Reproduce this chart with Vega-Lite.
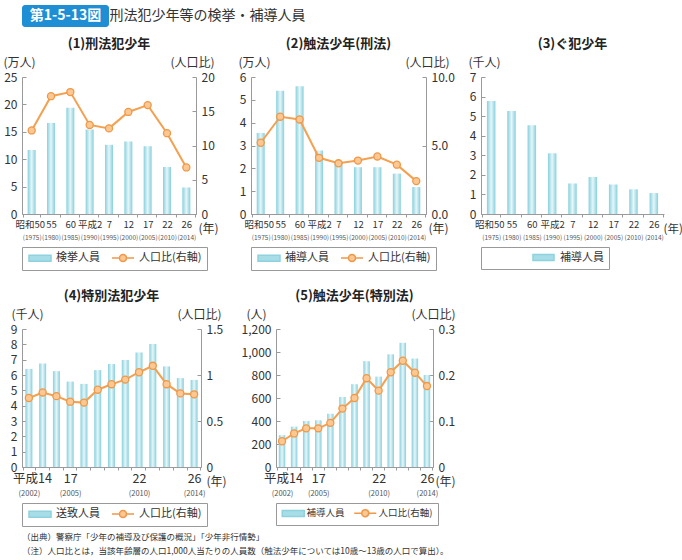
{
  "$schema": "https://vega.github.io/schema/vega-lite/v6.json",
  "padding": {"left": 3, "top": 5, "right": 0, "bottom": 2},
  "background": "white",
  "datasets": {
    "p1": [
      {"year": 1975, "n": 11.68, "r": 12.2}, {"year": 1980, "n": 16.61, "r": 17.2}, {"year": 1985, "n": 19.41, "r": 17.8},
      {"year": 1990, "n": 15.42, "r": 13.0}, {"year": 1995, "n": 12.62, "r": 12.5}, {"year": 2000, "n": 13.23, "r": 14.9},
      {"year": 2005, "n": 12.37, "r": 15.9}, {"year": 2010, "n": 8.58, "r": 11.8}, {"year": 2014, "n": 4.84, "r": 6.8}
    ],
    "p2": [
      {"year": 1975, "n": 3.55, "r": 5.2}, {"year": 1980, "n": 5.40, "r": 7.1}, {"year": 1985, "n": 5.60, "r": 6.9},
      {"year": 1990, "n": 2.78, "r": 4.1}, {"year": 1995, "n": 2.29, "r": 3.7}, {"year": 2000, "n": 2.05, "r": 3.9},
      {"year": 2005, "n": 2.05, "r": 4.2}, {"year": 2010, "n": 1.77, "r": 3.6}, {"year": 2014, "n": 1.18, "r": 2.4}
    ],
    "p3": [
      {"year": 1975, "n": 5.77}, {"year": 1980, "n": 5.26}, {"year": 1985, "n": 4.53},
      {"year": 1990, "n": 3.10}, {"year": 1995, "n": 1.56}, {"year": 2000, "n": 1.89},
      {"year": 2005, "n": 1.51}, {"year": 2010, "n": 1.26}, {"year": 2014, "n": 1.07}
    ],
    "p4": [
      {"year": 2002, "n": 6.40, "r": 0.75}, {"year": 2003, "n": 6.75, "r": 0.81}, {"year": 2004, "n": 6.25, "r": 0.77},
      {"year": 2005, "n": 5.57, "r": 0.71}, {"year": 2006, "n": 5.42, "r": 0.70}, {"year": 2007, "n": 6.32, "r": 0.84},
      {"year": 2008, "n": 6.72, "r": 0.90}, {"year": 2009, "n": 6.98, "r": 0.95}, {"year": 2010, "n": 7.47, "r": 1.03},
      {"year": 2011, "n": 8.02, "r": 1.10}, {"year": 2012, "n": 6.56, "r": 0.90}, {"year": 2013, "n": 5.80, "r": 0.80},
      {"year": 2014, "n": 5.68, "r": 0.79}
    ],
    "p5": [
      {"year": 2002, "n": 277, "r": 0.056}, {"year": 2003, "n": 351, "r": 0.073}, {"year": 2004, "n": 400, "r": 0.084},
      {"year": 2005, "n": 406, "r": 0.084}, {"year": 2006, "n": 463, "r": 0.096}, {"year": 2007, "n": 609, "r": 0.127},
      {"year": 2008, "n": 720, "r": 0.150}, {"year": 2009, "n": 920, "r": 0.193}, {"year": 2010, "n": 786, "r": 0.166},
      {"year": 2011, "n": 980, "r": 0.206}, {"year": 2012, "n": 1080, "r": 0.231}, {"year": 2013, "n": 943, "r": 0.205},
      {"year": 2014, "n": 800, "r": 0.176}
    ],
    "none": [],
    "hdr": [{"t": "第1-5-13図"}],
    "hdr2": [{"t": "刑法犯少年等の検挙・補導人員"}]
  },
  "title": {
    "text": ["（出典）警察庁「少年の補導及び保護の概況」「少年非行情勢」", "（注）人口比とは，当該年齢層の人口1,000人当たりの人員数（触法少年については10歳～13歳の人口で算出）。"],
    "orient": "bottom", "anchor": "start", "frame": "group", "fontSize": 8.5, "fontWeight": "normal", "color": "#333", "lineHeight": 14, "offset": 6
  },
  "concat": [
    {
      "hconcat": [
        {
          "width": 87, "height": 22,
          "data": {"name": "hdr"},
          "layer": [
            {"mark": {"type": "rect", "color": "#1e8fd5", "cornerRadius": 3}, "encoding": {}},
            {"mark": {"type": "text", "color": "white", "fontSize": 14, "fontWeight": "bold"}, "encoding": {"text": {"field": "t"}}}
          ]
        },
        {
          "width": 1, "height": 22,
          "data": {"name": "hdr2"},
          "mark": {"type": "text", "align": "left", "baseline": "middle", "fontSize": 14, "color": "#333"},
          "encoding": {"text": {"field": "t"}}
        }
      ],
      "spacing": 0,
      "bounds": "flush"
    },
    {
      "concat": [
        {
          "hconcat": [
            {
              "width": 174, "height": 137,
              "title": {"text": "(1)刑法犯少年"},
              "data": {"name": "p1"},
              "layer": [
                {
                  "mark": {"type": "bar", "size": 8, "fill": {"gradient": "linear", "x1": 0, "y1": 0, "x2": 1, "y2": 0, "stops": [{"offset": 0, "color": "#86d0dd"}, {"offset": 0.5, "color": "#e6f6f9"}, {"offset": 1, "color": "#86d0dd"}]}},
                  "encoding": {
                    "x": {"field": "year", "type": "ordinal", "title": "(年)", "axis": {"labelExpr": "isValid(datum.value) ? ['昭和50','55','60','平成2','7','12','17','22','26'][indexof([1975,1980,1985,1990,1995,2000,2005,2010,2014], datum.value)] : ''", "labelOffset": {"condition": {"test": "datum.value == 1975", "value": -2}, "value": 0}, "titleX": 176, "titleY": 18}},
                    "y": {"field": "n", "type": "quantitative", "scale": {"domain": [0, 25]}, "title": "(万人)", "axis": {"values": [0, 5, 10, 15, 20, 25], "titleX": -19}}
                  }
                },
                {
                  "encoding": {
                    "x": {"field": "year", "type": "ordinal", "axis": {"orient": "bottom", "ticks": false, "domain": false, "labelPadding": 20, "labelFontSize": 6.5, "labelColor": "#555", "title": null, "labelExpr": "isValid(datum.value) ? '(' + datum.value + ')' : ''"}},
                    "y": {"field": "r", "type": "quantitative", "scale": {"domain": [0, 20]}, "title": "(人口比)", "axis": {"orient": "right", "values": [0, 5, 10, 15, 20], "titleX": 18}}
                  },
                  "layer": [
                    {"mark": {"type": "line", "color": "#f4a04f", "strokeWidth": 2}},
                    {"mark": {"type": "point", "filled": true, "fill": "#fbc792", "stroke": "#ef9848", "strokeWidth": 1.3, "size": 50, "opacity": 1}}
                  ]
                },
                {
                  "data": {"name": "none"},
                  "mark": {"type": "point", "filled": true, "opacity": 1, "strokeWidth": 1.5},
                  "encoding": {
                    "fill": {"datum": "人口比(右軸)", "scale": {"domain": ["検挙人員", "人口比(右軸)"], "range": ["#a6dde7", "#fbc792"]}, "legend": {"title": null}},
                    "stroke": {"datum": "人口比(右軸)", "scale": {"domain": ["検挙人員", "人口比(右軸)"], "range": ["#8ed2de", "#ef9848"]}, "legend": {"title": null}},
                    "shape": {"datum": "人口比(右軸)", "scale": {"domain": ["検挙人員", "人口比(右軸)"], "range": ["M-1,-0.857H5.286V0.857H-1Z", "M-1,0H1.143M3.143,0H5.286M1.143,0A1,1 0 1,1 3.143,0A1,1 0 1,1 1.143,0Z"]}, "legend": {"title": null}}
                  }
                }
              ],
              "resolve": {"scale": {"y": "independent"}, "axis": {"x": "independent"}}
            },
            {
              "width": 175, "height": 137,
              "title": {"text": "(2)触法少年(刑法)"},
              "data": {"name": "p2"},
              "layer": [
                {
                  "mark": {"type": "bar", "size": 8, "fill": {"gradient": "linear", "x1": 0, "y1": 0, "x2": 1, "y2": 0, "stops": [{"offset": 0, "color": "#86d0dd"}, {"offset": 0.5, "color": "#e6f6f9"}, {"offset": 1, "color": "#86d0dd"}]}},
                  "encoding": {
                    "x": {"field": "year", "type": "ordinal", "title": "(年)", "axis": {"labelExpr": "isValid(datum.value) ? ['昭和50','55','60','平成2','7','12','17','22','26'][indexof([1975,1980,1985,1990,1995,2000,2005,2010,2014], datum.value)] : ''", "labelOffset": {"condition": {"test": "datum.value == 1975", "value": -2}, "value": 0}, "titleX": 177, "titleY": 18}},
                    "y": {"field": "n", "type": "quantitative", "scale": {"domain": [0, 6]}, "title": "(万人)", "axis": {"values": [0, 1, 2, 3, 4, 5, 6], "titleX": -13}}
                  }
                },
                {
                  "encoding": {
                    "x": {"field": "year", "type": "ordinal", "axis": {"orient": "bottom", "ticks": false, "domain": false, "labelPadding": 20, "labelFontSize": 6.5, "labelColor": "#555", "title": null, "labelExpr": "isValid(datum.value) ? '(' + datum.value + ')' : ''"}},
                    "y": {"field": "r", "type": "quantitative", "scale": {"domain": [0, 10]}, "title": "(人口比)", "axis": {"orient": "right", "values": [0, 5, 10], "format": ".1f", "titleX": 23}}
                  },
                  "layer": [
                    {"mark": {"type": "line", "color": "#f4a04f", "strokeWidth": 2}},
                    {"mark": {"type": "point", "filled": true, "fill": "#fbc792", "stroke": "#ef9848", "strokeWidth": 1.3, "size": 50, "opacity": 1}}
                  ]
                },
                {
                  "data": {"name": "none"},
                  "mark": {"type": "point", "filled": true, "opacity": 1, "strokeWidth": 1.5},
                  "encoding": {
                    "fill": {"datum": "人口比(右軸)", "scale": {"domain": ["補導人員", "人口比(右軸)"], "range": ["#a6dde7", "#fbc792"]}, "legend": {"title": null}},
                    "stroke": {"datum": "人口比(右軸)", "scale": {"domain": ["補導人員", "人口比(右軸)"], "range": ["#8ed2de", "#ef9848"]}, "legend": {"title": null}},
                    "shape": {"datum": "人口比(右軸)", "scale": {"domain": ["補導人員", "人口比(右軸)"], "range": ["M-1,-0.857H5.286V0.857H-1Z", "M-1,0H1.143M3.143,0H5.286M1.143,0A1,1 0 1,1 3.143,0A1,1 0 1,1 1.143,0Z"]}, "legend": {"title": null}}
                  }
                }
              ],
              "resolve": {"scale": {"y": "independent"}, "axis": {"x": "independent"}}
            },
            {
              "width": 183, "height": 137,
              "title": {"text": "(3)ぐ犯少年"},
              "data": {"name": "p3"},
              "layer": [
                {
                  "mark": {"type": "bar", "size": 8.5, "fill": {"gradient": "linear", "x1": 0, "y1": 0, "x2": 1, "y2": 0, "stops": [{"offset": 0, "color": "#86d0dd"}, {"offset": 0.5, "color": "#e6f6f9"}, {"offset": 1, "color": "#86d0dd"}]}},
                  "encoding": {
                    "x": {"field": "year", "type": "ordinal", "title": "(年)", "axis": {"labelExpr": "isValid(datum.value) ? ['昭和50','55','60','平成2','7','12','17','22','26'][indexof([1975,1980,1985,1990,1995,2000,2005,2010,2014], datum.value)] : ''", "labelOffset": {"condition": {"test": "datum.value == 1975", "value": -2}, "value": 0}, "titleX": 182, "titleY": 18, "titleFontSize": 11.5}},
                    "y": {"field": "n", "type": "quantitative", "scale": {"domain": [0, 7]}, "title": "(千人)", "axis": {"values": [0, 1, 2, 3, 4, 5, 6, 7], "titleX": -13}}
                  }
                },
                {
                  "data": {"name": "none"},
                  "mark": {"type": "point", "filled": true, "opacity": 1, "strokeWidth": 1.5},
                  "encoding": {
                    "x": {"field": "year", "type": "ordinal", "axis": {"orient": "bottom", "ticks": false, "domain": false, "labelPadding": 20, "labelFontSize": 6.5, "labelColor": "#555", "title": null, "labelExpr": "isValid(datum.value) ? '(' + datum.value + ')' : ''"}},
                    "fill": {"datum": "補導人員", "scale": {"domain": ["補導人員"], "range": ["#a6dde7"]}, "legend": {"title": null, "labelOffset": 63, "labelExpr": "datum.label + '\u3000\u3000\u3000\u3000\u3000'"}},
                    "stroke": {"datum": "補導人員", "scale": {"domain": ["補導人員"], "range": ["#8ed2de"]}, "legend": {"title": null, "labelOffset": 63, "labelExpr": "datum.label + '\u3000\u3000\u3000\u3000\u3000'"}},
                    "shape": {"datum": "補導人員", "scale": {"domain": ["補導人員"], "range": ["M-1,0L-1,0M11.86,-0.857H17.86V0.857H11.86Z"]}, "legend": {"title": null, "labelOffset": 63, "labelExpr": "datum.label + '\u3000\u3000\u3000\u3000\u3000'"}}
                  }
                }
              ],
              "resolve": {"axis": {"x": "independent"}}
            }
          ],
          "spacing": 55,
          "bounds": "flush",
          "resolve": {"scale": {"fill": "independent", "stroke": "independent", "shape": "independent"}}
        },
        {
          "hconcat": [
            {
              "width": 179, "height": 138,
              "title": {"text": "(4)特別法犯少年"},
              "data": {"name": "p4"},
              "layer": [
                {
                  "mark": {"type": "bar", "size": 7, "fill": {"gradient": "linear", "x1": 0, "y1": 0, "x2": 1, "y2": 0, "stops": [{"offset": 0, "color": "#86d0dd"}, {"offset": 0.5, "color": "#e6f6f9"}, {"offset": 1, "color": "#86d0dd"}]}},
                  "encoding": {
                    "x": {"field": "year", "type": "ordinal", "title": "(年)", "axis": {"labelFont": "Noto Sans CJK JP", "labelFontSize": 12.5, "labelExpr": "datum.value == 2002 ? '平成14' : datum.value == 2005 ? '17' : datum.value == 2010 ? '22' : datum.value == 2014 ? '26' : ''", "labelOffset": {"condition": {"test": "datum.value == 2002", "value": 3}, "value": 0}, "titleX": 184, "titleY": 18}},
                    "y": {"field": "n", "type": "quantitative", "scale": {"domain": [0, 9]}, "title": "(千人)", "axis": {"values": [0, 1, 2, 3, 4, 5, 6, 7, 8, 9], "titleX": -11}}
                  }
                },
                {
                  "encoding": {
                    "x": {"field": "year", "type": "ordinal", "axis": {"orient": "bottom", "ticks": false, "domain": false, "labelPadding": 22, "labelFontSize": 7.5, "labelColor": "#555", "title": null, "labelExpr": "indexof([2002,2005,2010,2014], datum.value) >= 0 ? '(' + datum.value + ')' : ''"}},
                    "y": {"field": "r", "type": "quantitative", "scale": {"domain": [0, 1.5]}, "title": "(人口比)", "axis": {"orient": "right", "values": [0, 0.5, 1, 1.5], "format": "~g", "titleX": 20}}
                  },
                  "layer": [
                    {"mark": {"type": "line", "color": "#f4a04f", "strokeWidth": 2}},
                    {"mark": {"type": "point", "filled": true, "fill": "#fbc792", "stroke": "#ef9848", "strokeWidth": 1.3, "size": 50, "opacity": 1}}
                  ]
                },
                {
                  "data": {"name": "none"},
                  "mark": {"type": "point", "filled": true, "opacity": 1, "strokeWidth": 1.5},
                  "encoding": {
                    "fill": {"datum": "人口比(右軸)", "scale": {"domain": ["送致人員", "人口比(右軸)"], "range": ["#a6dde7", "#fbc792"]}, "legend": {"title": null}},
                    "stroke": {"datum": "人口比(右軸)", "scale": {"domain": ["送致人員", "人口比(右軸)"], "range": ["#8ed2de", "#ef9848"]}, "legend": {"title": null}},
                    "shape": {"datum": "人口比(右軸)", "scale": {"domain": ["送致人員", "人口比(右軸)"], "range": ["M-1,-0.857H5.286V0.857H-1Z", "M-1,0H1.143M3.143,0H5.286M1.143,0A1,1 0 1,1 3.143,0A1,1 0 1,1 1.143,0Z"]}, "legend": {"title": null}}
                  }
                }
              ],
              "resolve": {"scale": {"y": "independent"}, "axis": {"x": "independent"}}
            },
            {
              "width": 157, "height": 138,
              "title": {"text": "(5)触法少年(特別法)"},
              "data": {"name": "p5"},
              "layer": [
                {
                  "mark": {"type": "bar", "size": 6.5, "fill": {"gradient": "linear", "x1": 0, "y1": 0, "x2": 1, "y2": 0, "stops": [{"offset": 0, "color": "#86d0dd"}, {"offset": 0.5, "color": "#e6f6f9"}, {"offset": 1, "color": "#86d0dd"}]}},
                  "encoding": {
                    "x": {"field": "year", "type": "ordinal", "title": "(年)", "axis": {"labelFont": "Noto Sans CJK JP", "labelFontSize": 12.5, "labelExpr": "datum.value == 2002 ? '平成14' : datum.value == 2005 ? '17' : datum.value == 2010 ? '22' : datum.value == 2014 ? '26' : ''", "labelOffset": {"condition": {"test": "datum.value == 2002", "value": 1}, "value": 0}, "titleX": 159, "titleY": 18}},
                    "y": {"field": "n", "type": "quantitative", "scale": {"domain": [0, 1200]}, "title": "(人)", "axis": {"values": [0, 200, 400, 600, 800, 1000, 1200], "format": ",.0f", "titleX": -30}}
                  }
                },
                {
                  "encoding": {
                    "x": {"field": "year", "type": "ordinal", "axis": {"orient": "bottom", "ticks": false, "domain": false, "labelPadding": 22, "labelFontSize": 7.5, "labelColor": "#555", "title": null, "labelExpr": "indexof([2002,2005,2010,2014], datum.value) >= 0 ? '(' + datum.value + ')' : ''"}},
                    "y": {"field": "r", "type": "quantitative", "scale": {"domain": [0, 0.3]}, "title": "(人口比)", "axis": {"orient": "right", "values": [0, 0.1, 0.2, 0.3], "format": "~g", "titleX": 22}}
                  },
                  "layer": [
                    {"mark": {"type": "line", "color": "#f4a04f", "strokeWidth": 2}},
                    {"mark": {"type": "point", "filled": true, "fill": "#fbc792", "stroke": "#ef9848", "strokeWidth": 1.3, "size": 50, "opacity": 1}}
                  ]
                },
                {
                  "data": {"name": "none"},
                  "mark": {"type": "point", "filled": true, "opacity": 1, "strokeWidth": 1.5},
                  "encoding": {
                    "fill": {"datum": "人口比(右軸)", "scale": {"domain": ["補導人員", "人口比(右軸)"], "range": ["#a6dde7", "#fbc792"]}, "legend": {"title": null, "labelFontSize": 9.5, "columnPadding": 6, "labelOffset": 16}},
                    "stroke": {"datum": "人口比(右軸)", "scale": {"domain": ["補導人員", "人口比(右軸)"], "range": ["#8ed2de", "#ef9848"]}, "legend": {"title": null, "labelFontSize": 9.5, "columnPadding": 6, "labelOffset": 16}},
                    "shape": {"datum": "人口比(右軸)", "scale": {"domain": ["補導人員", "人口比(右軸)"], "range": ["M-1,-0.857H5.286V0.857H-1Z", "M-1,0H1.143M3.143,0H5.286M1.143,0A1,1 0 1,1 3.143,0A1,1 0 1,1 1.143,0Z"]}, "legend": {"title": null, "labelFontSize": 9.5, "columnPadding": 6, "labelOffset": 16}}
                  }
                }
              ],
              "resolve": {"scale": {"y": "independent"}, "axis": {"x": "independent"}}
            }
          ],
          "spacing": 75,
          "bounds": "flush",
          "resolve": {"scale": {"fill": "independent", "stroke": "independent", "shape": "independent"}}
        }
      ],
      "columns": 1,
      "align": "none",
      "spacing": 19
    }
  ],
  "columns": 1,
  "align": "none",
  "spacing": 11,
  "config": {
    "font": "Noto Sans CJK JP",
    "view": {"stroke": null},
    "title": {"fontSize": 13, "fontWeight": "bold", "color": "#222", "anchor": "middle", "offset": 5},
    "axis": {"grid": false, "domainColor": "#9a9a9a", "tickColor": "#9a9a9a", "labelColor": "#333", "titleColor": "#333", "labelFontSize": 12, "titleFontSize": 12, "titleFontWeight": "normal", "labelOverlap": false, "titleAngle": 0, "titleBaseline": "alphabetic", "titlePadding": 0},
    "axisX": {"labelAngle": 0, "tickBand": "extent", "tickSize": 3, "labelPadding": 2, "titleAlign": "left", "labelFontSize": 9.5},
    "axisY": {"tickSize": -4, "labelPadding": 9, "titleY": -11},
    "axisLeft": {"titleAlign": "left"},
    "axisRight": {"titleAlign": "right"},
    "legend": {"orient": "bottom", "direction": "horizontal", "symbolSize": 49, "labelOffset": 18, "columnPadding": 9, "padding": 5, "strokeColor": "#999", "labelFontSize": 11, "labelColor": "#333", "symbolStrokeWidth": 1.5, "offset": 6}
  }
}
